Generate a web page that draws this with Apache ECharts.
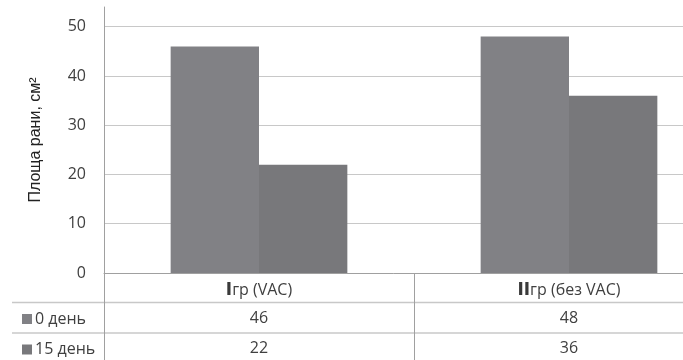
<!DOCTYPE html>
<html>
<head>
<meta charset="utf-8">
<script src="https://cdn.jsdelivr.net/npm/echarts@6/dist/echarts.min.js"></script>
<style>
  html, body { margin: 0; padding: 0; background: #fff; }
  #chart { width: 683px; height: 360px; }
</style>
</head>
<body>
<div id="chart"></div>
<script>
// Wound area by group, day 0 vs day 15
const categories = ['Iгр (VAC)', 'IIгр (без VAC)'];
const seriesNames = ['0 день', '15 день'];
const day0 = [46, 48];
const day15 = [22, 36];
const yTicks = [0, 10, 20, 30, 40, 50];

const textColor = '#404040';
const gridColor = '#c8c8c8';
const axisColor = '#a0a0a0';
const barColors = ['#818185', '#78787b'];

const chart = echarts.init(document.getElementById('chart'), null, { renderer: 'canvas' });

const tableRow = (values, offset) => ({
  type: 'category',
  gridIndex: 0,
  position: 'bottom',
  offset: offset,
  data: values.map(String),
  axisLine: { show: false },
  axisTick: { show: false },
  splitLine: { show: false },
  axisLabel: {
    margin: 7,
    fontFamily: 'Open Sans',
    fontSize: 16,
    color: textColor,
    interval: 0
  }
});

chart.setOption({
  animation: false,
  grid: {
    left: 104,
    right: -41,
    top: 7,
    bottom: 87,
    outerBoundsMode: 'none',
    containLabel: false
  },
  legend: [0, 1].map(i => ({
    data: [seriesNames[i]],
    orient: 'vertical',
    left: 17,
    top: 306 + i * 30.5,
    icon: 'rect',
    itemWidth: 10,
    itemHeight: 10,
    selectedMode: false,
    textStyle: {
      fontFamily: 'Open Sans',
      fontSize: 16,
      color: textColor,
      padding: [0, 0, 0, -2]
    }
  })),
  xAxis: [
    {
      type: 'category',
      data: categories,
      axisLine: { show: true, lineStyle: { color: axisColor, width: 1 } },
      axisTick: {
        show: true,
        interval: 0,
        length: 90,
        lineStyle: { color: axisColor, width: 1 }
      },
      splitLine: { show: false },
      axisLabel: {
        margin: 9,
        interval: 0,
        fontFamily: 'Open Sans',
        fontSize: 16,
        color: textColor,
        formatter: v => v.replace(/^(I+)/, '{n|$1}'),
        rich: {
          n: { fontFamily: 'DejaVu Sans', fontWeight: 'bold', fontSize: 17, color: '#3a3a3a' }
        }
      }
    },
    tableRow(day0, 30),
    tableRow(day15, 60.5)
  ],
  yAxis: {
    type: 'value',
    min: yTicks[0],
    max: 54,
    interval: 10,
    name: 'Площа рани, см²',
    nameLocation: 'middle',
    nameGap: 60,
    nameTextStyle: {
      fontFamily: 'Liberation Sans',
      fontSize: 16,
      color: '#222'
    },
    axisLine: { show: true, lineStyle: { color: axisColor, width: 1 } },
    axisTick: { show: false },
    axisLabel: {
      margin: 18,
      showMaxLabel: false,
      fontFamily: 'Open Sans',
      fontSize: 16,
      color: textColor
    },
    splitLine: {
      show: true,
      showMinLine: false,
      showMaxLine: false,
      lineStyle: { color: gridColor, width: 1 }
    }
  },
  series: [
    {
      name: seriesNames[0],
      type: 'bar',
      data: day0,
      barGap: 0,
      barCategoryGap: '43%',
      itemStyle: { color: barColors[0] }
    },
    {
      name: seriesNames[1],
      type: 'bar',
      data: day15,
      barGap: 0,
      barCategoryGap: '43%',
      itemStyle: { color: barColors[1] }
    }
  ],
  graphic: [
    // horizontal rules of the data table
    { type: 'line', shape: { x1: 12, y1: 302.5, x2: 683, y2: 302.5 }, style: { stroke: gridColor, lineWidth: 1.5 } },
    { type: 'line', shape: { x1: 12, y1: 333, x2: 683, y2: 333 }, style: { stroke: gridColor, lineWidth: 1.5 } }
  ]
});
</script>
</body>
</html>
